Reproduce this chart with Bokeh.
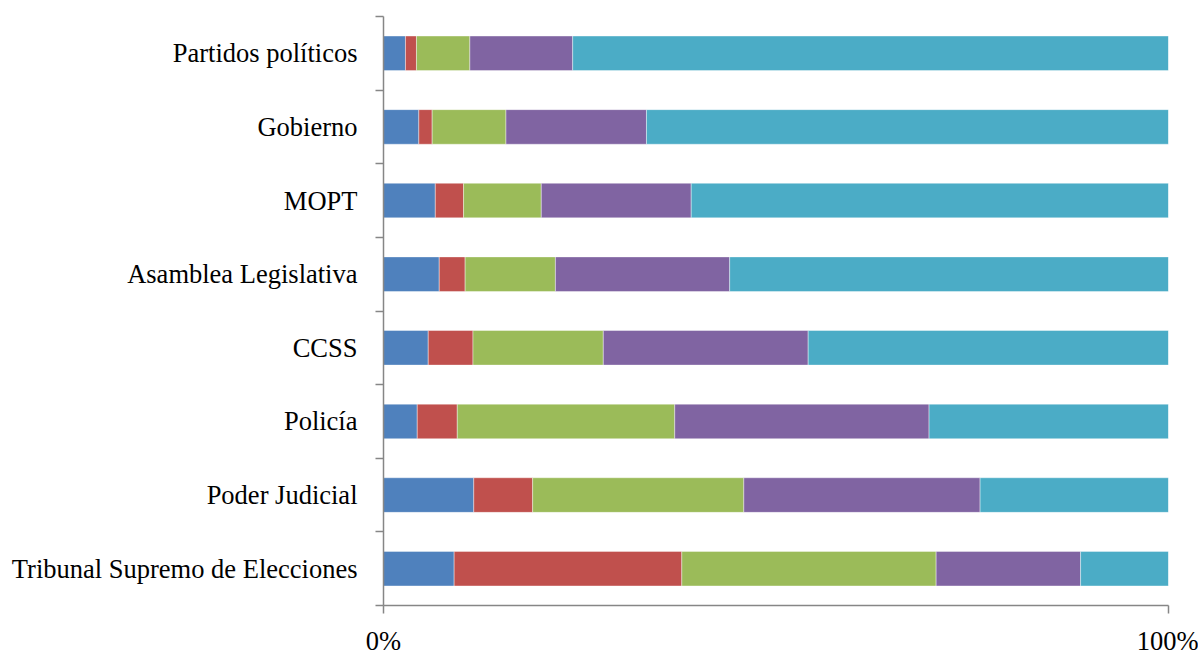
from bokeh.plotting import figure
from bokeh.models import ColumnDataSource, FixedTicker, PrintfTickFormatter, Range1d
from bokeh.embed import file_html
from bokeh.resources import INLINE

# Categories listed bottom -> top
categories = [
    "Tribunal Supremo de Elecciones",
    "Poder Judicial",
    "Policía",
    "CCSS",
    "Asamblea Legislativa",
    "MOPT",
    "Gobierno",
    "Partidos políticos",
]

# Percent shares for the five stacked series (each row sums to ~100)
serie_1 = [9.0, 11.5, 4.3, 5.7, 7.1, 6.6, 4.5, 2.8]
serie_2 = [29.0, 7.5, 5.1, 5.7, 3.3, 3.6, 1.7, 1.4]
serie_3 = [32.4, 26.9, 27.7, 16.6, 11.5, 9.9, 9.4, 6.8]
serie_4 = [18.4, 30.1, 32.4, 26.1, 22.2, 19.1, 17.9, 13.1]
serie_5 = [11.2, 24.0, 30.5, 45.9, 55.9, 60.8, 66.5, 75.9]

series_names = ["serie_1", "serie_2", "serie_3", "serie_4", "serie_5"]
colors = ["#4F81BD", "#C0504D", "#9BBB59", "#8064A2", "#4BACC6"]

x_ticks = [0, 100]

positions = list(range(len(categories)))
source = ColumnDataSource(dict(
    y=positions,
    serie_1=serie_1, serie_2=serie_2, serie_3=serie_3,
    serie_4=serie_4, serie_5=serie_5,
))

p = figure(
    width=1198, height=658,
    output_backend="svg", toolbar_location=None,
    x_range=Range1d(0, 100), y_range=Range1d(-0.5, len(categories) - 0.5),
    min_border_left=383, min_border_right=30, min_border_top=16, min_border_bottom=52,
    background_fill_color="white", border_fill_color="white",
)
p.outline_line_color = None
p.grid.visible = False

p.hbar_stack(series_names, y="y", height=0.47, color=colors, source=source,
             line_color="white", line_alpha=0.5, line_width=0.8)

axis_color = "#868686"
font = "Liberation Serif"

# y axis: labels at category centers, tick marks at boundaries
p.yaxis.ticker = FixedTicker(ticks=positions,
                             minor_ticks=[i - 0.5 for i in range(len(categories) + 1)])
p.yaxis.major_label_overrides = {i: c for i, c in zip(positions, categories)}
p.yaxis.major_tick_line_color = None
p.yaxis.major_tick_out = 8
p.yaxis.major_tick_in = 0
p.yaxis.minor_tick_out = 8
p.yaxis.minor_tick_in = 0
p.yaxis.minor_tick_line_color = axis_color
p.yaxis.minor_tick_line_width = 1.5
p.yaxis.major_label_standoff = 18

# x axis
p.xaxis.ticker = FixedTicker(ticks=x_ticks, minor_ticks=[])
p.xaxis.formatter = PrintfTickFormatter(format="%d%%")
p.xaxis.major_tick_out = 8
p.xaxis.major_tick_in = 0
p.xaxis.major_tick_line_color = axis_color
p.xaxis.major_tick_line_width = 1.5
p.xaxis.minor_tick_line_color = None
p.xaxis.major_label_standoff = 12

for ax in (p.xaxis, p.yaxis):
    ax.axis_line_color = axis_color
    ax.axis_line_width = 1.5
    ax.major_label_text_font = font
    ax.major_label_text_font_size = "26.5px"
    ax.major_label_text_color = "black"

open("out.html", "w").write(file_html(p, INLINE))
